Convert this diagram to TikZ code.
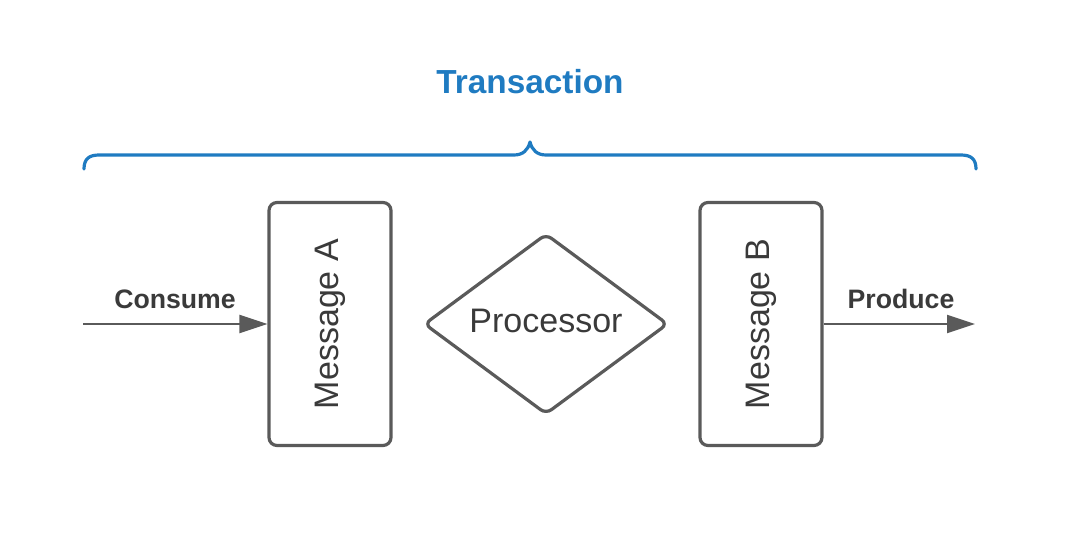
\documentclass[tikz,border=0pt]{standalone}
\usepackage{fontspec}
\setmainfont{Liberation Sans}
\usetikzlibrary{shapes.geometric,arrows.meta}
\definecolor{linegray}{HTML}{5A5A5A}
\definecolor{textgray}{HTML}{3A3A3A}
\definecolor{tblue}{HTML}{1F7BC1}
\begin{document}
\begin{tikzpicture}[x=0.75pt,y=-0.75pt,
  msgbox/.style={draw=linegray, line width=2.4pt, rounded corners=6pt, minimum width=91.5pt, minimum height=182.25pt, inner sep=0pt},
  procshape/.style={draw=linegray, line width=2.4pt, diamond, aspect=1.35, rounded corners=5pt, minimum width=183pt, minimum height=135.5pt, inner sep=0pt},
  boxtext/.style={text=textgray, font=\fontsize{25.5pt}{28pt}\selectfont},
  flowlabel/.style={text=textgray, font=\bfseries\fontsize{20pt}{22pt}\selectfont},
  flow/.style={draw=linegray, line width=1.6pt, -{Triangle[length=21pt,width=13.5pt]}},
  brace/.style={draw=tblue, line width=2.4pt, line cap=round, line join=round}]
\useasboundingbox (0,0) rectangle (1080,535);
\node[msgbox] (A) at (330,324) {};
\node[boxtext, rotate=90] (Atext) at (A) {Message A};
\node[procshape] (P) at (546,324) {};
\node[boxtext] (Ptext) at ([yshift=2.5pt]P.center) {Processor};
\node[msgbox] (B) at (761,324) {};
\node[boxtext, rotate=90] (Btext) at (B) {Message B};
\coordinate (in) at (83,324);
\coordinate (out) at (975,324);
\draw[flow] (in) -- (A.west);
\draw[flow] (B.east) -- (out);
\node[flowlabel] (consume) at (175,299) {Consume};
\node[flowlabel] (produce) at (901,299) {Produce};
\node[text=tblue, font=\bfseries\fontsize{25pt}{28pt}\selectfont] (title) at (530,82) {Transaction};
\draw[brace] (84,169) .. controls (84,159) and (89,155) .. (99,155) -- (514,155)
  .. controls (523,155) and (528,150) .. (530,142)
  .. controls (532,150) and (537,155) .. (546,155) -- (961,155)
  .. controls (971,155) and (976,159) .. (976,169);
\end{tikzpicture}
\end{document}
